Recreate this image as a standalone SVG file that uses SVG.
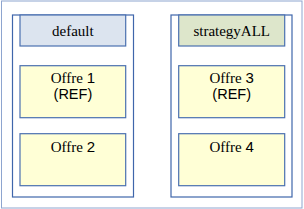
<svg xmlns="http://www.w3.org/2000/svg" width="304" height="209" viewBox="0 0 304 209">
<style>
.outer{fill:#ffffff;stroke:#8ea5cf;stroke-width:1}
.grp{fill:#ffffff;stroke:#3f66ab;stroke-width:1.2}
.hdr1{fill:#dce4ef;stroke:#4a70b0;stroke-width:1.2}
.hdr2{fill:#dde6cb;stroke:#4a70b0;stroke-width:1.2}
.offre{fill:#ffffd6;stroke:#4a70b0;stroke-width:1.2}
.serif{font-family:"Liberation Serif","DejaVu Serif",serif;font-size:15px;fill:#000}
.sans{font-family:"Liberation Sans","DejaVu Sans",sans-serif;font-size:15px;fill:#000}
.ref{font-family:"Liberation Sans","DejaVu Sans",sans-serif;font-size:14.5px;fill:#000}
text{text-anchor:middle}
</style>
<rect class="outer" x="1.5" y="1" width="300.5" height="207"/>
<g id="group-default">
  <rect class="grp" x="12.5" y="15" width="121" height="182"/>
  <g id="header-default">
    <rect class="hdr1" x="20" y="15" width="105.7" height="31"/>
    <text class="serif" x="72.9" y="36">default</text>
  </g>
  <g id="offre1">
    <rect class="offre" x="20" y="65.7" width="105.7" height="52"/>
    <text class="serif" x="72.9" y="82.6">Offre <tspan class="sans">1</tspan></text>
    <text class="ref" x="72.9" y="99.4">(REF)</text>
  </g>
  <g id="offre2">
    <rect class="offre" x="20" y="133.7" width="105.7" height="52"/>
    <text class="serif" x="72.9" y="151.5">Offre <tspan class="sans">2</tspan></text>
  </g>
</g>
<g id="group-strategyALL">
  <rect class="grp" x="171" y="15" width="121" height="182"/>
  <g id="header-strategyALL">
    <rect class="hdr2" x="178.7" y="15" width="106" height="31"/>
    <text class="serif" x="231.7" y="36">strategyALL</text>
  </g>
  <g id="offre3">
    <rect class="offre" x="178.7" y="65.7" width="106" height="52"/>
    <text class="serif" x="231.7" y="82.6">Offre <tspan class="sans">3</tspan></text>
    <text class="ref" x="231.7" y="99.4">(REF)</text>
  </g>
  <g id="offre4">
    <rect class="offre" x="178.7" y="133.7" width="106" height="52"/>
    <text class="serif" x="231.7" y="151.5">Offre <tspan class="sans">4</tspan></text>
  </g>
</g>
<g id="connectors"/>
</svg>
